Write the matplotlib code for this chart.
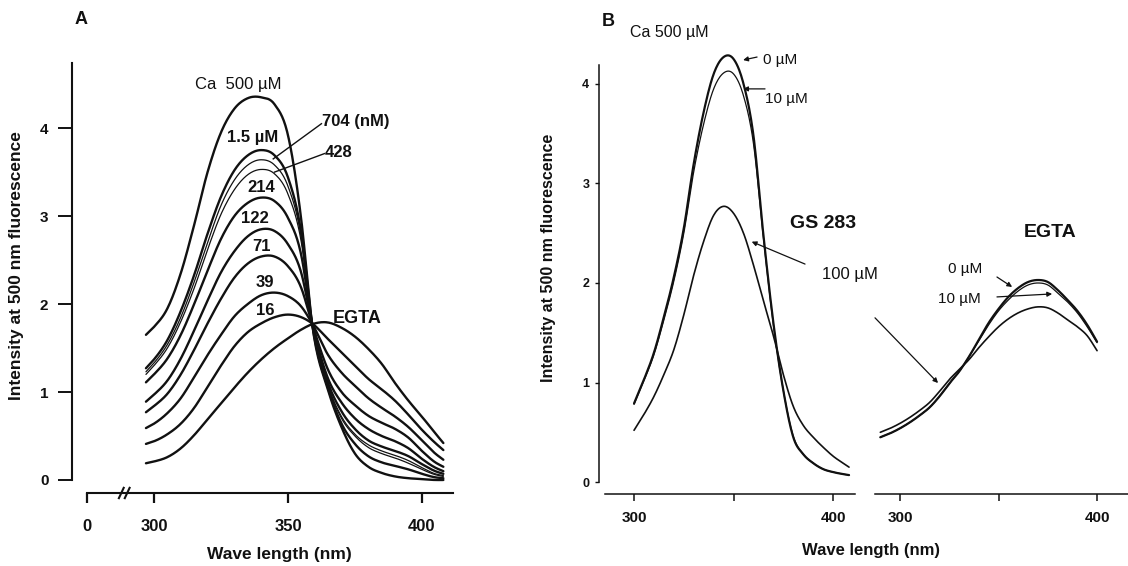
import numpy as np
import matplotlib
matplotlib.use("Agg")
import matplotlib.pyplot as plt
import matplotlib.transforms as mtransforms

plt.rcParams['font.family'] = ['Liberation Sans', 'DejaVu Sans']

# ---------------- Panel A: Ca titration of the excitation spectrum ----------------
wl_a = [297, 300, 305, 310, 315, 320, 325, 330, 335, 340, 345, 350,
        355, 359, 365, 370, 375, 380, 385, 390, 395, 400, 405, 408]

ca_500uM = [1.65, 1.74, 1.95, 2.35, 2.90, 3.50, 3.95, 4.22, 4.34, 4.35, 4.27, 3.92,
            2.95, 1.78, 1.02, 0.60, 0.30, 0.15, 0.08, 0.04, 0.02, 0.01, 0.0, 0.0]
ca_1p5uM = [1.27, 1.37, 1.59, 1.92, 2.33, 2.80, 3.22, 3.52, 3.69, 3.75, 3.69, 3.44,
            2.80, 1.78, 1.04, 0.64, 0.41, 0.27, 0.20, 0.16, 0.12, 0.07, 0.03, 0.02]
ca_704nM = [1.23, 1.33, 1.54, 1.85, 2.25, 2.70, 3.12, 3.41, 3.58, 3.64, 3.58, 3.34,
            2.75, 1.78, 1.06, 0.70, 0.50, 0.37, 0.30, 0.25, 0.19, 0.12, 0.06, 0.04]
ca_428nM = [1.20, 1.30, 1.50, 1.80, 2.18, 2.62, 3.02, 3.30, 3.47, 3.53, 3.48, 3.25,
            2.70, 1.78, 1.07, 0.72, 0.52, 0.40, 0.33, 0.28, 0.22, 0.14, 0.07, 0.05]
ca_214nM = [1.11, 1.20, 1.38, 1.65, 2.00, 2.38, 2.74, 3.00, 3.15, 3.21, 3.17, 2.98,
            2.55, 1.78, 1.10, 0.78, 0.58, 0.45, 0.38, 0.33, 0.27, 0.18, 0.10, 0.07]
ca_122nM = [0.89, 0.97, 1.13, 1.38, 1.70, 2.04, 2.36, 2.60, 2.77, 2.85, 2.83, 2.68,
            2.35, 1.78, 1.15, 0.88, 0.70, 0.58, 0.50, 0.44, 0.36, 0.24, 0.14, 0.10]
ca_71nM = [0.77, 0.84, 0.98, 1.20, 1.48, 1.78, 2.06, 2.30, 2.46, 2.54, 2.54, 2.43,
           2.18, 1.78, 1.25, 1.00, 0.85, 0.73, 0.65, 0.58, 0.48, 0.33, 0.20, 0.15]
ca_39nM = [0.59, 0.64, 0.76, 0.93, 1.17, 1.42, 1.65, 1.86, 2.00, 2.10, 2.13, 2.09,
           1.97, 1.78, 1.42, 1.22, 1.07, 0.93, 0.82, 0.72, 0.60, 0.45, 0.30, 0.23]
ca_16nM = [0.41, 0.44, 0.52, 0.64, 0.82, 1.06, 1.30, 1.52, 1.68, 1.78, 1.85, 1.88,
           1.85, 1.78, 1.60, 1.45, 1.30, 1.15, 1.03, 0.90, 0.74, 0.57, 0.42, 0.34]
egta_a = [0.19, 0.21, 0.26, 0.36, 0.51, 0.69, 0.87, 1.05, 1.22, 1.37, 1.50, 1.61,
          1.71, 1.77, 1.79, 1.73, 1.63, 1.49, 1.32, 1.10, 0.90, 0.72, 0.53, 0.42]

series_a = [ca_500uM, ca_1p5uM, ca_704nM, ca_428nM, ca_214nM, ca_122nM,
            ca_71nM, ca_39nM, ca_16nM, egta_a]
widths_a = [1.7, 1.7, 0.9, 0.9, 1.7, 1.7, 1.7, 1.7, 1.7, 1.7]

yticks_a = [0, 1, 2, 3, 4]
xticks_a = [275, 300, 350, 400]
xticklabels_a = ['0', '300', '350', '400']

# ---------------- Panel B: effect of GS 283 ----------------
wl_b_ca = [300, 305, 310, 315, 320, 325, 330, 335, 340, 345, 350, 355,
           360, 365, 370, 375, 380, 385, 390, 395, 400, 405, 408]
ca_gs0 = [0.79, 1.03, 1.30, 1.66, 2.06, 2.55, 3.20, 3.72, 4.10, 4.27, 4.25, 4.00,
          3.48, 2.48, 1.60, 0.92, 0.45, 0.28, 0.19, 0.13, 0.10, 0.08, 0.07]
ca_gs10 = [0.78, 1.02, 1.28, 1.63, 2.02, 2.50, 3.12, 3.60, 3.95, 4.11, 4.10, 3.88,
           3.40, 2.45, 1.58, 0.92, 0.46, 0.28, 0.19, 0.13, 0.10, 0.08, 0.07]
ca_gs100 = [0.52, 0.68, 0.86, 1.08, 1.33, 1.68, 2.08, 2.42, 2.68, 2.77, 2.70, 2.50,
            2.18, 1.82, 1.47, 1.08, 0.76, 0.57, 0.45, 0.35, 0.26, 0.19, 0.15]

wl_b_egta = [290, 295, 300, 305, 310, 315, 320, 325, 330, 335, 340, 345,
             350, 355, 360, 365, 370, 375, 380, 385, 390, 395, 400]
egta_gs0 = [0.45, 0.49, 0.54, 0.60, 0.67, 0.75, 0.86, 0.99, 1.11, 1.26, 1.43, 1.60,
            1.74, 1.86, 1.95, 2.01, 2.03, 2.01, 1.93, 1.83, 1.72, 1.58, 1.41]
egta_gs10 = [0.45, 0.49, 0.54, 0.60, 0.67, 0.75, 0.86, 0.99, 1.11, 1.26, 1.42, 1.58,
             1.72, 1.83, 1.92, 1.98, 2.00, 1.98, 1.90, 1.81, 1.70, 1.56, 1.40]
egta_gs100 = [0.50, 0.54, 0.59, 0.65, 0.72, 0.80, 0.91, 1.03, 1.13, 1.23, 1.35, 1.46,
              1.56, 1.64, 1.70, 1.74, 1.76, 1.75, 1.70, 1.63, 1.56, 1.47, 1.32]

yticks_b = [0, 1, 2, 3, 4]
xticks_b = [300, 350, 400]
xticklabels_b = ['300', '', '400']


def smooth_path(x, y, n=16):
    """Cubic Hermite rendering through the given points."""
    x = np.asarray(x, float)
    y = np.asarray(y, float)
    m = np.gradient(y, x)
    xs, ys = [], []
    t = np.linspace(0, 1, n, endpoint=False)
    h00 = 2 * t**3 - 3 * t**2 + 1
    h10 = t**3 - 2 * t**2 + t
    h01 = -2 * t**3 + 3 * t**2
    h11 = t**3 - t**2
    for i in range(len(x) - 1):
        h = x[i + 1] - x[i]
        xs.append(x[i] + t * h)
        ys.append(h00 * y[i] + h10 * h * m[i] + h01 * y[i + 1] + h11 * h * m[i + 1])
    xs.append([x[-1]])
    ys.append([y[-1]])
    return np.concatenate(xs), np.concatenate(ys)


W, H = 1128, 566
fig = plt.figure(figsize=(W / 100, H / 100), dpi=100)


def px_axes(x0, y_top, x1, y_bot):
    ax = fig.add_axes([x0 / W, 1 - y_bot / H, (x1 - x0) / W, (y_bot - y_top) / H])
    ax.patch.set_visible(False)
    return ax


def fig_text(x, y, s, **kw):
    return fig.text(x / W, 1 - y / H, s, **kw)


ink = '#111111'

# ---------------- Panel A ----------------
axA = px_axes(72, 63, 453, 493)
axA.set_xlim(269.4, 411.6)
axA.set_ylim(-0.148, 4.74)
for ys, lw in zip(series_a, widths_a):
    sx, sy = smooth_path(wl_a, ys)
    axA.plot(sx, sy, color=ink, lw=lw, solid_capstyle='round',
             solid_joinstyle='round', clip_on=False)

for s in ('top', 'right'):
    axA.spines[s].set_visible(False)
axA.spines['left'].set_bounds(0, 4.74)
axA.spines['bottom'].set_bounds(275, 411.6)
for s in ('left', 'bottom'):
    axA.spines[s].set_linewidth(1.5)
    axA.spines[s].set_color(ink)
axA.set_yticks(yticks_a)
axA.set_xticks(xticks_a)
axA.set_xticklabels(xticklabels_a)
axA.tick_params(axis='y', length=10, width=1.4, pad=7, labelsize=11, colors=ink)
axA.tick_params(axis='x', length=7, width=1.6, pad=12, labelsize=12, colors=ink)
for lab in axA.get_xticklabels() + axA.get_yticklabels():
    lab.set_fontweight('bold')

# axis break marks
trA = mtransforms.blended_transform_factory(axA.transData, axA.transAxes)
for xb in (287.8, 290.0):
    axA.plot([xb - 0.9, xb + 0.9], [-0.012, 0.012], color=ink, lw=1.5,
             transform=trA, clip_on=False)

fig_text(17, 266, 'Intensity at 500 nm fluorescence', fontsize=12.5,
         fontweight='bold', color=ink, rotation=90, ha='center', va='center')
fig_text(279, 554, 'Wave length (nm)', fontsize=12.5, fontweight='bold',
         color=ink, ha='center', va='center')

txt = dict(color=ink, fontweight='bold', fontsize=12, va='center', clip_on=False)
axA.text(315.3, 4.49, 'Ca  500 \u00b5M', color=ink, fontsize=12, va='center')
axA.text(327.2, 3.89, '1.5 \u00b5M', ha='left', **txt)
axA.text(362.7, 4.07, '704 (nM)', ha='left', **txt)
axA.text(363.8, 3.72, '428', ha='left', **txt)
axA.plot([362.5, 344.5], [4.05, 3.65], color=ink, lw=1.0)
axA.plot([363.6, 345.0], [3.71, 3.50], color=ink, lw=1.0)
axA.text(340.0, 3.33, '214', ha='center', **txt)
axA.text(337.7, 2.97, '122', ha='center', **txt)
axA.text(340.0, 2.65, '71', ha='center', **txt)
axA.text(341.4, 2.25, '39', ha='center', **txt)
axA.text(341.4, 1.93, '16', ha='center', **txt)
axA.text(376.0, 1.83, 'EGTA', ha='center', color=ink, fontweight='bold', fontsize=13,
         va='center')

fig_text(81, 20, 'A', fontsize=13, fontweight='bold', color=ink,
         ha='center', va='center')

# ---------------- Panel B (Ca 500 uM) ----------------
axB1 = px_axes(599, 65, 855, 494)
axB1.set_xlim(282.4, 411.0)
axB1.set_ylim(-0.12, 4.19)
for ys, lw in ((ca_gs0, 1.6), (ca_gs10, 0.9), (ca_gs100, 1.2)):
    sx, sy = smooth_path(wl_b_ca, ys)
    axB1.plot(sx, sy, color=ink, lw=lw, solid_capstyle='round', clip_on=False)

# ---------------- Panel B (EGTA) ----------------
axB2 = px_axes(875, 65, 1128, 494)
axB2.set_xlim(287.3, 415.7)
axB2.set_ylim(-0.12, 4.19)
for ys, lw in ((egta_gs0, 1.6), (egta_gs10, 0.9), (egta_gs100, 1.2)):
    sx, sy = smooth_path(wl_b_egta, ys)
    axB2.plot(sx, sy, color=ink, lw=lw, solid_capstyle='round', clip_on=False)

for ax in (axB1, axB2):
    for s in ('top', 'right'):
        ax.spines[s].set_visible(False)
    ax.spines['bottom'].set_linewidth(1.1)
    ax.spines['bottom'].set_color(ink)
    ax.set_xticks(xticks_b)
    ax.set_xticklabels(xticklabels_b)
    ax.tick_params(axis='x', length=5, width=1.1, pad=7, labelsize=11, colors=ink)
    for lab in ax.get_xticklabels():
        lab.set_fontweight('bold')

axB1.spines['bottom'].set_bounds(285.4, 411.0)
axB1.spines['left'].set_bounds(0, 4.19)
axB1.spines['left'].set_linewidth(1.1)
axB1.spines['left'].set_color(ink)
axB1.set_yticks(yticks_b)
axB1.tick_params(axis='y', length=3, width=1.0, pad=4, labelsize=9, colors=ink)
for lab in axB1.get_yticklabels():
    lab.set_fontweight('bold')
fig_text(548, 258, 'Intensity at 500 nm fluorescence', fontsize=11.5,
         fontweight='bold', color=ink, rotation=90, ha='center', va='center')

axB2.spines['left'].set_visible(False)
axB2.spines['bottom'].set_bounds(287.3, 415.7)
axB2.set_yticks([])

fig_text(871, 551, 'Wave length (nm)', fontsize=12, fontweight='bold',
         color=ink, ha='center', va='center')
fig_text(608, 21, 'B', fontsize=13, fontweight='bold', color=ink,
         ha='center', va='center')
fig_text(630, 33, 'Ca 500 \u00b5M', fontsize=11.5, color=ink,
         ha='left', va='center')

arw = dict(arrowstyle='-|>', color=ink, lw=0.9, mutation_scale=7,
           shrinkA=0, shrinkB=0)
lbl = dict(color=ink, fontsize=11, va='center', ha='left')

axB1.text(364.8, 4.24, '0 \u00b5M', **lbl)
axB1.annotate('', xy=(354.8, 4.24), xytext=(361.8, 4.27), arrowprops=arw,
              annotation_clip=False)
axB1.text(365.8, 3.85, '10 \u00b5M', **lbl)
axB1.annotate('', xy=(354.8, 3.95), xytext=(365.8, 3.95), arrowprops=arw)
axB1.text(378.4, 2.60, 'GS 283', color=ink, fontsize=14, fontweight='bold',
          va='center', ha='left', clip_on=False)
axB1.text(394.5, 2.09, '100 \u00b5M', color=ink, fontsize=12, va='center', ha='left',
          clip_on=False)
axB1.annotate('', xy=(359.1, 2.415), xytext=(385.9, 2.19), arrowprops=arw,
              annotation_clip=False)

axB2.text(376.1, 2.51, 'EGTA', color=ink, fontsize=14, fontweight='bold',
          va='center', ha='center')
axB2.text(324.4, 2.14, '0 \u00b5M', **lbl)
axB2.annotate('', xy=(356.9, 1.96), xytext=(349.2, 2.06), arrowprops=arw)
axB2.text(319.3, 1.84, '10 \u00b5M', **lbl)
axB2.annotate('', xy=(377.2, 1.89), xytext=(349.2, 1.86), arrowprops=arw)
axB2.annotate('', xy=(319.3, 0.995), xytext=(287.3, 1.65), arrowprops=arw,
              annotation_clip=False)

fig.savefig('out.png', dpi=100)
